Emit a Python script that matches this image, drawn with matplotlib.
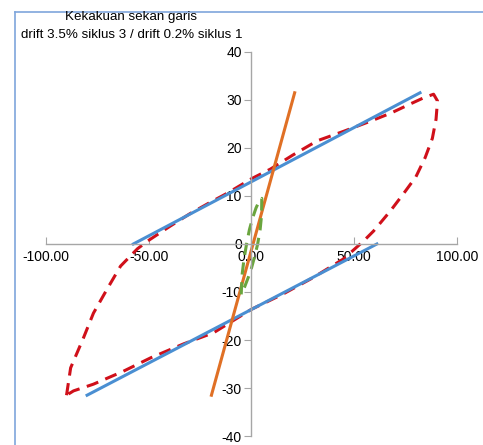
import numpy as np
import matplotlib
matplotlib.use("Agg")
import matplotlib.pyplot as plt
from matplotlib.lines import Line2D

plt.rcParams['font.family'] = ['Liberation Sans', 'DejaVu Sans']

# hysteresis loop, drift 3.5% cycle 3
loop_x = [-90, -88, -81.8, -76.9, -70, -63.7, -55.5, -50.6, -40, -30, -20, -11.7, 0, 9.2,
          20, 32, 45, 58, 68, 77.4, 84, 88.6, 90.5, 89.8, 88, 84.5, 80, 74, 67.6, 59.4,
          54.5, 44.8, 30, 15, 0, -18.5, -33, -49, -62.3, -76.9, -86.6, -90]
loop_y = [-31.5, -25.8, -19.6, -14.4, -9.2, -4.6, -1, 0.6, 3.6, 6.3, 8.7, 10.6, 13.6, 15.6,
          18.5, 21.5, 23.5, 25.6, 27.3, 29.2, 30.5, 31.2, 29.8, 26, 22, 18, 14, 10.5, 6.9, 2.7,
          0.6, -3.1, -7, -10.5, -13.6, -18.5, -20.8, -23.7, -26.5, -29.2, -30.6, -31.5]

# secant lines for drift 3.5%
upper_x = [-57.5, 82]
upper_y = [0, 31.5]
lower_x = [-80, 61]
lower_y = [-31.5, 0]

# small loop, drift 0.2% cycle 1
small_x = [-5, -4.6, -3.6, -2.4, -1, 0.6, 2.2, 3.8, 5, 4.9, 4.2, 3, 1.6, 0, -1.6, -3.4, -5]
small_y = [-10.5, -6.5, -3, 0, 3, 5.5, 7.5, 9, 9.5, 6, 3, 0, -2.5, -5, -7, -9, -10.5]

# secant for drift 0.2%
sec_x = [-19.5, 21]
sec_y = [-31.5, 31.5]

x_ticks = [-100, -50, 0, 50, 100]
y_ticks = [-40, -30, -20, -10, 0, 10, 20, 30, 40]

fig = plt.figure(figsize=(4.83, 4.45), dpi=100)
ax = fig.add_axes([0.0952, 0.0202, 0.851, 0.863])

ax.plot(loop_x, loop_y, color='#D0101A', lw=2.2, dashes=(4, 2.5))
ax.plot(upper_x, upper_y, color='#4A8FD2', lw=2.2)
ax.plot(lower_x, lower_y, color='#4A8FD2', lw=2.2)
ax.plot(sec_x, sec_y, color='#E07025', lw=2.2)
ax.plot(small_x, small_y, color='#6AA53E', lw=2.2, dashes=(4, 2.5))

ax.set_xlim(-100, 100)
ax.set_ylim(-40, 40)
ax.spines['left'].set_position(('data', 0))
ax.spines['bottom'].set_position(('data', 0))
ax.spines['right'].set_visible(False)
ax.spines['top'].set_visible(False)
for s in ['left', 'bottom']:
    ax.spines[s].set_color('#A6A6A6')
    ax.spines[s].set_linewidth(1)
ax.set_xticks(x_ticks)
ax.set_xticklabels(['%.2f' % v for v in x_ticks])
ax.set_yticks(y_ticks)
ax.set_yticklabels([str(v) for v in y_ticks])
ax.tick_params(axis='x', direction='in', length=5, color='#A6A6A6', labelsize=10, pad=4)
ax.tick_params(axis='y', direction='out', length=5, color='#A6A6A6', labelsize=10, pad=2)
ax.patch.set_visible(False)

fig.text(0.272, 0.962, 'Kekakuan sekan garis', ha='center', va='center', fontsize=9.6)
fig.text(0.272, 0.921, 'drift 3.5% siklus 3 / drift 0.2% siklus 1', ha='center', va='center', fontsize=9.6)

fig.add_artist(Line2D([0.031, 0.031], [0, 0.972], color='#7FA6DC', lw=1.2))
fig.add_artist(Line2D([0.031, 1], [0.972, 0.972], color='#7FA6DC', lw=1.2))

fig.savefig('out.png', dpi=100)
